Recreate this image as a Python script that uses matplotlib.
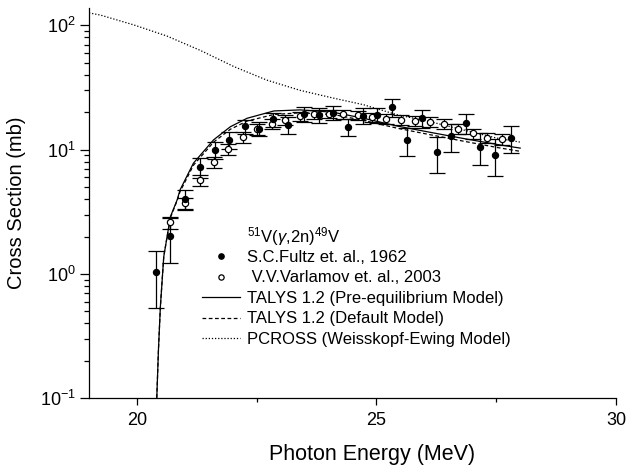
import matplotlib
matplotlib.use("Agg")
import matplotlib.pyplot as plt
from matplotlib.lines import Line2D
from matplotlib.ticker import LogLocator, FixedLocator, NullFormatter

plt.rcParams['font.family'] = ['Liberation Sans', 'DejaVu Sans']
plt.rcParams['mathtext.fontset'] = 'custom'
plt.rcParams['mathtext.rm'] = 'Liberation Sans'
plt.rcParams['mathtext.it'] = 'Liberation Sans:italic'
plt.rcParams['axes.unicode_minus'] = False

# S.C.Fultz et al., 1962 (filled circles)
fultz_e = [20.40, 20.70, 21.01, 21.31, 21.62, 21.93, 22.25, 22.55, 22.85, 23.16,
           23.48, 23.80, 24.09, 24.40, 24.71, 25.01, 25.32, 25.64, 25.94, 26.26,
           26.56, 26.87, 27.17, 27.48, 27.80]
fultz_xs = [1.03, 2.03, 4.0, 7.2, 10.0, 12.0, 15.4, 14.8, 17.6, 15.8,
            19.4, 19.0, 19.9, 15.3, 18.8, 19.1, 22.0, 11.9, 17.9, 9.55,
            12.8, 16.4, 10.6, 9.1, 12.4]
fultz_err = [0.5, 0.8, 0.75, 1.3, 1.6, 1.8, 2.0, 2.0, 2.3, 2.4,
             2.6, 2.6, 2.7, 2.5, 2.7, 2.7, 3.6, 3.0, 3.0, 3.0,
             3.3, 3.0, 3.0, 3.0, 3.0]

# V.V.Varlamov et al., 2003 (open circles)
varl_e = [20.70, 21.01, 21.31, 21.60, 21.90, 22.21, 22.51, 22.82, 23.10, 23.41,
          23.70, 24.00, 24.30, 24.61, 24.91, 25.20, 25.51, 25.81, 26.11, 26.40,
          26.70, 27.01, 27.31, 27.61]
varl_xs = [2.6, 3.72, 5.66, 7.9, 10.1, 12.6, 14.6, 16.1, 17.4, 18.5,
           19.2, 19.4, 19.2, 18.9, 18.3, 17.7, 17.4, 17.1, 16.8, 16.1,
           14.7, 13.5, 12.5, 12.2]
varl_err = [0.3, 0.4, 0.6, 0.8, 1.0, 1.2, 1.4, 1.5, 1.5, 1.5,
            1.5, 1.5, 1.5, 1.5, 1.5, 1.5, 1.5, 1.5, 1.5, 1.5,
            1.4, 1.3, 1.2, 1.2]

# TALYS 1.2 (pre-equilibrium model)
talys_pe_e = [20.41, 20.45, 20.49, 20.56, 20.63, 20.70, 20.84, 20.90, 21.18, 21.60,
              21.95, 22.30, 22.86, 23.41, 24.10, 24.73, 25.43, 26.12, 26.82, 27.53, 28.0]
talys_pe_xs = [0.09, 0.25, 0.55, 1.38, 2.0, 2.9, 3.95, 4.75, 7.8, 12.0,
               15.3, 17.9, 20.5, 20.9, 20.0, 17.9, 15.5, 13.8, 12.3, 11.0, 10.3]

# TALYS 1.2 (default model)
talys_def_e = [20.41, 20.45, 20.49, 20.56, 20.63, 20.70, 20.84, 20.90, 21.18, 21.60,
               21.95, 22.30, 22.86, 23.41, 24.10, 24.73, 25.43, 26.12, 26.82, 27.53, 28.0]
talys_def_xs = [0.09, 0.25, 0.55, 1.38, 2.0, 2.85, 3.9, 4.6, 7.5, 11.5,
                14.6, 17.0, 19.2, 19.8, 19.2, 17.2, 14.9, 13.2, 11.7, 10.4, 9.7]

# PCROSS (Weisskopf-Ewing model)
pcross_e = [19.0, 19.24, 19.93, 20.63, 21.32, 22.02, 22.71, 23.41, 24.10, 24.73,
            25.43, 26.12, 26.82, 27.51, 28.0]
pcross_xs = [126, 121, 101, 82, 63, 46.7, 36.3, 30, 26, 23,
             19.1, 16.8, 14.4, 12.4, 11.5]

fig = plt.figure(figsize=(6.3, 4.65), dpi=100)
ax = fig.add_axes([0.1413, 0.1434, 0.8365, 0.8394])

ax.plot(talys_pe_e, talys_pe_xs, '-', color='black', lw=0.9)
ax.plot(talys_def_e, talys_def_xs, '--', color='black', lw=0.9, dashes=(3, 2))
ax.plot(pcross_e, pcross_xs, ':', color='black', lw=0.9, dashes=(1, 1.5))

ax.errorbar(varl_e, varl_xs, yerr=varl_err, fmt='o', ms=4.5, mfc='white', mec='black',
            mew=0.9, ecolor='black', elinewidth=0.9, capsize=5.5, capthick=0.9)
ax.errorbar(fultz_e, fultz_xs, yerr=fultz_err, fmt='o', ms=4.3, color='black',
            ecolor='black', elinewidth=0.9, capsize=5.5, capthick=0.9)

ax.set_yscale('log')
ax.set_xlim(19, 30)
ax.set_ylim(0.1, 138)

ax.set_xticks([20, 25, 30])
ax.xaxis.set_minor_locator(FixedLocator([22.5, 27.5]))
ax.yaxis.set_major_locator(LogLocator(base=10, numticks=10))
ax.yaxis.set_minor_locator(LogLocator(base=10, subs=range(2, 10), numticks=10))
ax.yaxis.set_minor_formatter(NullFormatter())

ax.tick_params(axis='both', which='both', direction='out', labelsize=13, width=0.9)
ax.tick_params(axis='y', which='major', length=6.5, pad=3)
ax.tick_params(axis='y', which='minor', length=3.5)
ax.tick_params(axis='x', which='major', length=5, pad=5)
ax.tick_params(axis='x', which='minor', length=3)

for s in ['top', 'right']:
    ax.spines[s].set_visible(False)
for s in ['left', 'bottom']:
    ax.spines[s].set_linewidth(0.9)

ax.set_xlabel('Photon Energy (MeV)', fontsize=15.5)
ax.set_ylabel('Cross Section (mb)', fontsize=14.5)
ax.xaxis.set_label_coords(0.537, -0.118)
ax.yaxis.set_label_coords(-0.12, 0.5)

ax.text(0.3, 0.415, r'$^{51}$V($\gamma$,2n)$^{49}$V', transform=ax.transAxes,
        fontsize=12, ha='left', va='center')

handles = [
    Line2D([], [], ls='none', marker='o', ms=3.8, color='black'),
    Line2D([], [], ls='none', marker='o', ms=3.8, mfc='white', mec='black', mew=0.9),
    Line2D([], [], ls='-', color='black', lw=0.9),
    Line2D([], [], ls='--', color='black', lw=0.9, dashes=(3, 2)),
    Line2D([], [], ls=':', color='black', lw=0.9, dashes=(1, 1.5)),
]
labels = ['S.C.Fultz et. al., 1962', ' V.V.Varlamov et. al., 2003',
          'TALYS 1.2 (Pre-equilibrium Model)', 'TALYS 1.2 (Default Model)',
          'PCROSS (Weisskopf-Ewing Model)']
ax.legend(handles, labels, loc='upper left', bbox_to_anchor=(0.2144, 0.38),
          frameon=False, fontsize=12, borderpad=0, borderaxespad=0,
          handlelength=2.3, handletextpad=0.4, labelspacing=0.33)

fig.savefig('out.png', dpi=100)
